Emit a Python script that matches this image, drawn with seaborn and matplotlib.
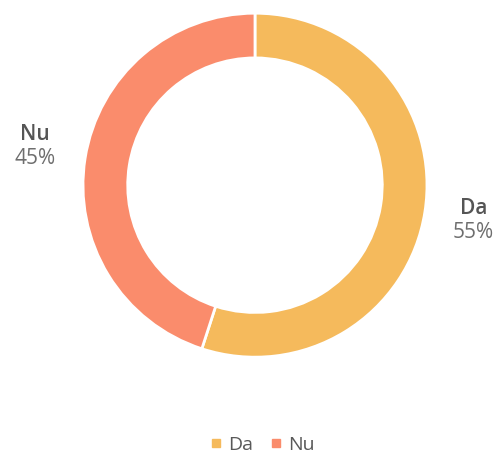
import matplotlib
matplotlib.use("Agg")
import matplotlib.pyplot as plt
import seaborn as sns

categories = ['Da', 'Nu']
values = [55, 45]
colors = ['#F5BA5C', '#FA8C6C']

sns.set_style("white")
plt.rcParams['font.family'] = ['Open Sans', 'DejaVu Sans']

fig = plt.figure(figsize=(4.99, 4.55), dpi=100)
ax = fig.add_axes([0.511 - 0.345, 0.593 - 0.378, 0.69, 0.756])

wedges, _ = ax.pie(values, colors=colors, startangle=90, counterclock=False,
                   radius=1, wedgeprops=dict(width=0.26, edgecolor='white', linewidth=2))
ax.set_xlim(-1, 1)
ax.set_ylim(-1, 1)
ax.axis('off')

# data labels like the original
label_pos = {'Da': (1.27, -0.20), 'Nu': (-1.28, 0.23)}
for cat, val in zip(categories, values):
    x, y = label_pos[cat]
    ax.text(x, y + 0.005, cat, ha='center', va='bottom', fontsize=15,
            fontweight='semibold', color='#555555', clip_on=False)
    ax.text(x, y - 0.015, f'{val}%', ha='center', va='top', fontsize=15,
            color='#6e6e6e', clip_on=False)

handles = [plt.Line2D([], [], marker='s', linestyle='', markersize=6,
                      markerfacecolor=c, markeredgecolor=c) for c in colors]
fig.legend(handles, categories, loc='center', bbox_to_anchor=(0.52, 0.022),
           ncol=2, frameon=False, fontsize=14, handletextpad=0.0,
           handlelength=1.2, columnspacing=0.6, labelcolor='#595959')

fig.savefig('out.png', dpi=100)
